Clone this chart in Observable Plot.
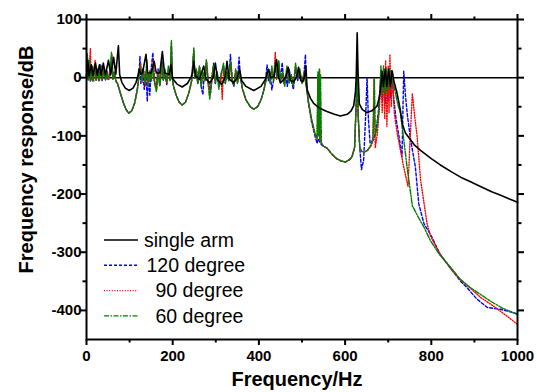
<!DOCTYPE html>
<html><head><meta charset="utf-8">
<script src="https://cdn.jsdelivr.net/npm/d3@7"></script>
<script src="https://cdn.jsdelivr.net/npm/@observablehq/plot@0.6"></script>
<style>body{margin:0;background:#fff;} #chart{width:537px;height:392px;}</style>
</head><body><div id="chart"></div>
<script>
// ---- data: [frequency Hz, response dB] ----
const seriesNames = ["single arm", "120 degree", "90 degree", "60 degree"];
const seriesColors = ["#000000", "#0000ff", "#ff0000", "#008000"];

const singleArm = [[0,2],[3,30],[6,3],[11,22],[15,3],[21,25],[25,4],[30,22],[34,4],[39,25],[44,5],[51,30],[56,5],[63,35],[68,6],[74,55],[77,5],[82,-8],[90,-18],[99,-22],[108,-18],[115,-8],[120,5],[122,15],[126,6],[130,8],[138,40],[142,8],[150,8],[157,28],[162,8],[170,8],[176,45],[181,8],[192,6],[196,22],[200,-2],[210,-11],[222,-16],[234,-10],[242,0],[246,8],[249,28],[253,3],[262,-3],[272,20],[277,-2],[286,-9],[294,0],[299,25],[304,-3],[314,-12],[322,2],[326,28],[331,-2],[341,-9],[350,0],[355,15],[360,-5],[370,-15],[388,-22],[405,-15],[415,-3],[420,10],[423,14],[427,0],[435,2],[441,31],[446,0],[450,-9],[462,0],[468,18],[473,-5],[481,-7],[488,2],[492,18],[497,-5],[502,-7],[506,2],[509,20],[512,-21],[520,-36],[527,-44],[540,-52],[558,-58],[575,-63],[589,-66],[605,-63],[614,-57],[620,-48],[624,-25],[626,5],[628,77],[630,10],[633,-45],[640,-55],[651,-60],[662,-57],[674,-49],[679,-35],[682,-20],[686,10],[689,-15],[693,15],[697,-15],[701,15],[705,-15],[709,12],[713,-5],[720,-25],[728,-55],[733,-80],[740,-95],[760,-115],[775,-125],[800,-139],[821,-150],[845,-161],[868,-171],[891,-179],[914,-187],[940,-196],[961,-202],[980,-208],[1000,-214]];

const deg120 = [[0,0],[2,35],[4,-4],[7,25],[9,-6],[12,20],[15,-5],[19,22],[22,-5],[26,15],[29,-6],[33,22],[36,-5],[40,18],[44,-4],[47,12],[50,-3],[55,8],[58,38],[61,-3],[64,10],[68,-6],[72,-10],[78,-25],[85,-42],[92,-55],[98,-61],[105,-57],[112,-43],[118,-20],[122,5],[124,37],[126,-10],[130,15],[134,-20],[138,10],[141,-41],[144,5],[147,-30],[150,15],[154,43],[157,-5],[162,-15],[166,15],[170,-10],[175,30],[178,-5],[182,10],[186,-12],[190,15],[194,-5],[197,55],[199,0],[202,-15],[208,-30],[215,-42],[222,-47],[230,-42],[238,-25],[244,-5],[249,45],[251,0],[255,10],[258,-10],[262,18],[266,-15],[270,-29],[273,5],[278,25],[282,-5],[288,-26],[291,-5],[295,25],[299,-10],[303,10],[307,-15],[312,5],[318,20],[322,-10],[326,5],[330,-5],[334,40],[338,-5],[342,-15],[346,10],[350,-5],[354,35],[357,0],[362,-20],[370,-38],[380,-50],[388,-54],[397,-50],[405,-38],[412,-20],[416,0],[419,22],[422,-5],[426,10],[430,-21],[434,-5],[438,20],[442,0],[446,25],[450,-5],[454,26],[458,-10],[462,5],[466,-15],[470,15],[475,-5],[480,-20],[485,15],[490,-5],[495,10],[500,-8],[505,10],[508,40],[510,-10],[515,-45],[522,-75],[530,-100],[535,-113],[538,-105],[541,-110],[545,-115],[550,-118],[558,-121],[570,-132],[580,-139],[590,-143],[601,-145],[610,-141],[616,-136],[622,-120],[626,-40],[628,25],[630,-60],[634,-120],[638,-158],[643,-142],[648,-60],[651,0],[654,-70],[658,-112],[666,-107],[672,-90],[677,-60],[681,-20],[684,15],[687,-40],[690,10],[693,-45],[696,12],[699,-40],[702,10],[705,-35],[708,5],[712,-30],[718,-70],[725,-101],[732,-136],[736,11],[740,-30],[744,-61],[752,-107],[763,-153],[771,-217],[783,-251],[800,-272],[820,-303],[845,-328],[868,-350],[883,-361],[905,-380],[930,-395],[961,-398],[980,-402],[1000,-406]];

const deg90 = [[0,0],[2,30],[5,-3],[9,50],[11,-4],[14,20],[17,-5],[20,30],[23,-5],[27,15],[30,-5],[34,20],[37,-4],[41,15],[45,-3],[49,10],[52,-3],[56,8],[59,40],[62,-3],[65,8],[69,-6],[72,-10],[78,-25],[85,-42],[92,-55],[98,-61],[105,-57],[112,-43],[118,-20],[122,5],[126,25],[129,-8],[133,12],[137,-15],[140,20],[143,-10],[147,12],[151,-5],[155,30],[159,-10],[163,-20],[167,10],[171,-12],[175,25],[179,-3],[183,12],[187,-10],[191,15],[195,-3],[197,60],[199,0],[202,-15],[208,-30],[215,-42],[222,-47],[230,-42],[238,-25],[244,-5],[249,48],[251,0],[256,12],[259,-8],[263,18],[267,-12],[271,8],[275,-5],[279,28],[283,-8],[287,-30],[290,-5],[295,20],[299,-8],[303,8],[308,-15],[312,3],[315,-37],[318,20],[322,-8],[327,10],[331,-5],[335,25],[339,-5],[343,-10],[347,12],[351,-8],[355,8],[358,0],[362,-20],[370,-38],[380,-50],[388,-54],[397,-50],[405,-38],[412,-20],[418,0],[422,12],[426,-8],[430,15],[434,-5],[438,44],[441,-3],[446,28],[450,-5],[455,8],[460,-12],[465,15],[470,-8],[475,5],[480,-12],[485,20],[490,0],[495,12],[500,-8],[505,8],[510,-15],[515,-42],[522,-72],[530,-97],[535,-106],[537,5],[539,-100],[541,14],[543,-108],[545,-112],[550,-118],[558,-121],[570,-132],[580,-139],[590,-143],[601,-145],[610,-141],[616,-136],[622,-120],[626,-40],[628,28],[630,-60],[634,-120],[639,-127],[645,-128],[652,-125],[660,-118],[664,-110],[667,-2],[670,-120],[675,-95],[680,-50],[683,10],[686,-60],[689,20],[692,-70],[694,30],[697,-84],[700,20],[702,-60],[704,40],[707,-50],[710,10],[714,-60],[721,-96],[735,-150],[746,-187],[750,-120],[756,-27],[762,-70],[767,-100],[775,-175],[783,-215],[790,-250],[798,-272],[820,-303],[845,-328],[868,-348],[891,-362],[915,-378],[945,-393],[976,-410],[1000,-424]];

const deg60 = [[0,0],[2,42],[4,-3],[7,30],[9,-5],[12,15],[15,-6],[19,25],[22,-4],[26,12],[29,-5],[33,20],[36,-4],[40,15],[44,-3],[47,10],[50,-2],[55,5],[58,44],[61,-2],[64,8],[68,-5],[72,-10],[78,-25],[85,-42],[92,-55],[98,-61],[105,-57],[112,-43],[118,-20],[122,5],[125,20],[128,-5],[132,15],[136,-10],[140,30],[143,-15],[147,10],[150,-5],[154,20],[158,-10],[162,-24],[165,10],[170,-15],[175,25],[178,-5],[182,15],[186,-8],[190,20],[194,-5],[197,64],[199,0],[202,-15],[208,-30],[215,-42],[222,-47],[230,-42],[238,-25],[244,-5],[249,51],[251,0],[255,15],[258,-10],[262,20],[266,-15],[270,10],[275,-5],[278,31],[282,-10],[286,-38],[289,-5],[295,22],[299,-10],[303,10],[307,-20],[312,5],[318,25],[322,-10],[326,10],[330,-5],[334,28],[338,-5],[342,-12],[346,15],[350,-10],[355,10],[358,0],[362,-20],[370,-38],[380,-50],[388,-54],[397,-50],[405,-38],[412,-20],[418,0],[422,15],[426,-10],[430,20],[434,-5],[438,25],[442,0],[446,30],[450,-5],[455,10],[460,-15],[465,20],[470,-10],[475,5],[480,-15],[485,25],[490,0],[495,15],[500,-10],[505,5],[510,-15],[515,-40],[522,-70],[530,-95],[535,-104],[537,10],[538,-100],[540,15],[541,-108],[543,5],[545,-112],[550,-118],[558,-121],[570,-132],[580,-139],[590,-143],[601,-145],[610,-141],[616,-136],[622,-120],[626,-40],[628,30],[630,-60],[634,-120],[639,-127],[645,-128],[652,-125],[660,-115],[665,-105],[668,-2],[670,-100],[674,-85],[678,-60],[681,-20],[683,20],[686,-30],[689,15],[692,-25],[695,18],[698,-25],[701,15],[704,-20],[707,12],[710,-5],[715,-20],[722,-45],[728,-60],[735,-100],[744,-155],[756,-220],[770,-240],[783,-257],[798,-280],[820,-305],[845,-326],[868,-347],[891,-361],[915,-373],[937,-384],[965,-396],[1000,-407]];

const xMajorTicks = [0, 200, 400, 600, 800, 1000];
const xMinorTicks = [100, 300, 500, 700, 900];
const yMajorTicks = [-400, -300, -200, -100, 0, 100];
const yMinorTicks = [-350, -250, -150, -50, 50];
const xLabel = "Frequency/Hz";
const yLabel = "Frequency response/dB";

// ---- build ----
const toRows = (arr, name) => arr.map(([f, db]) => ({f, db, series: name}));
const rows = [singleArm, deg120, deg90, deg60].map((a, i) => toRows(a, seriesNames[i]));
const dashes = [null, "3,2", "1,1.6", "5,1.5,1.5,1.5"];
const widths = [1.6, 1.4, 1.4, 1.4];

const noLabel = () => "";
const chart = Plot.plot({
  width: 537, height: 392,
  marginLeft: 86, marginRight: 20, marginTop: 19, marginBottom: 53,
  style: {fontFamily: "Arial, 'Liberation Sans', sans-serif", fontSize: "15px", fontWeight: "bold", background: "#fff", color: "#000"},
  x: {domain: [0, 1000]},
  y: {domain: [-450, 100]},
  marks: [
    Plot.ruleY([0], {stroke: "#000", strokeWidth: 1.5}),
    ...[1, 2, 3, 0].map(i => Plot.line(rows[i], {x: "f", y: "db", stroke: seriesColors[i], strokeWidth: widths[i], strokeDasharray: dashes[i], strokeLinejoin: "round"})),
    Plot.frame({stroke: "#000", strokeWidth: 2}),
    Plot.axisX({ticks: xMajorTicks, tickSize: 6, tickPadding: 5, tickFormat: d => String(d), label: null, strokeWidth: 2}),
    Plot.axisX({ticks: xMinorTicks, tickSize: 3.5, tickFormat: noLabel, label: null, strokeWidth: 2}),
    Plot.axisX({anchor: "top", ticks: xMajorTicks, tickSize: 6, tickFormat: noLabel, label: null, strokeWidth: 2}),
    Plot.axisX({anchor: "top", ticks: xMinorTicks, tickSize: 3.5, tickFormat: noLabel, label: null, strokeWidth: 2}),
    Plot.axisY({ticks: yMajorTicks, tickSize: 6, tickPadding: -1, tickFormat: d => String(d), label: null, strokeWidth: 2}),
    Plot.axisY({ticks: yMinorTicks, tickSize: 3.5, tickFormat: noLabel, label: null, strokeWidth: 2}),
    Plot.axisY({anchor: "right", ticks: yMajorTicks, tickSize: 6, tickFormat: noLabel, label: null, strokeWidth: 2}),
    Plot.axisY({anchor: "right", ticks: yMinorTicks, tickSize: 3.5, tickFormat: noLabel, label: null, strokeWidth: 2}),
    Plot.text([xLabel], {frameAnchor: "bottom", textAnchor: "middle", lineAnchor: "middle", dx: -5, dy: 40, fontSize: 20, fontWeight: "bold"}),
    Plot.text([yLabel], {frameAnchor: "left", textAnchor: "middle", lineAnchor: "middle", dx: -60, dy: -20, rotate: -90, fontSize: 20, fontWeight: "bold"})
  ]
});
document.getElementById("chart").appendChild(chart);

// ---- legend inside the plot ----
const svg = d3.select(chart);
const lg = svg.append("g").attr("font-family", "Arial, 'Liberation Sans', sans-serif").attr("font-size", 19.5).attr("font-weight", "normal").attr("text-anchor", "start");
const legendTextX = [144, 146.5, 155.5, 155.5];
seriesNames.forEach((name, i) => {
  const y = 240 + i * 25.3;
  lg.append("line").attr("x1", 104).attr("x2", 138).attr("y1", y).attr("y2", y)
    .attr("stroke", seriesColors[i]).attr("stroke-width", widths[i])
    .attr("stroke-dasharray", dashes[i]);
  lg.append("text").attr("x", legendTextX[i]).attr("y", y).attr("dy", "0.35em").attr("fill", "#000").text(name);
});
</script>
</body></html>
